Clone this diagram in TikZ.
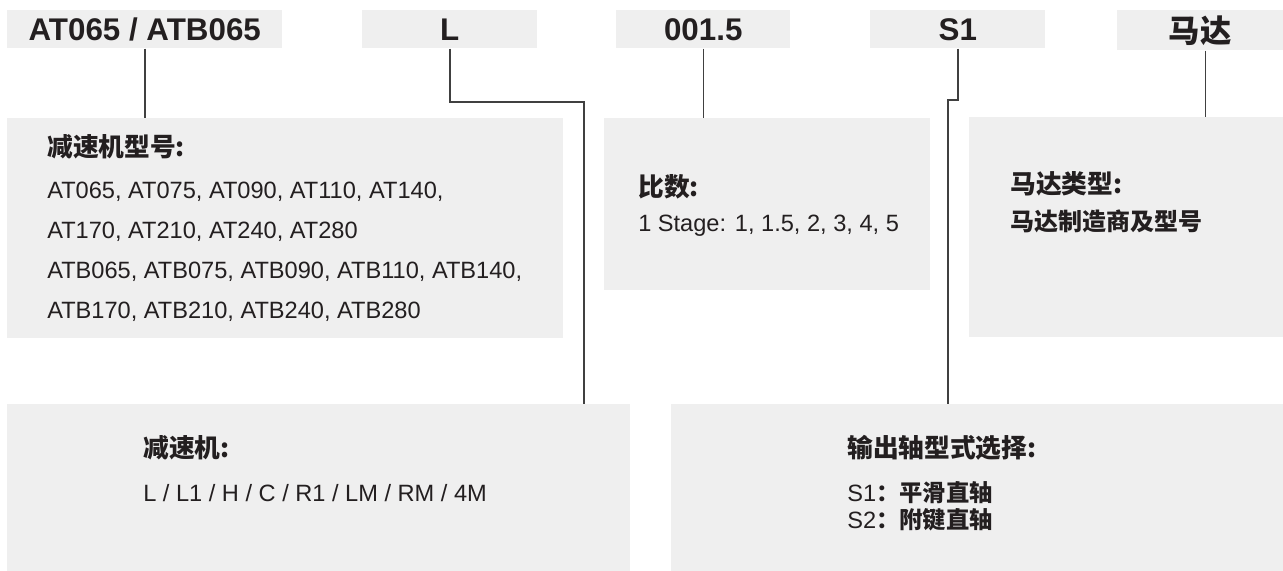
\documentclass[tikz,border=0pt]{standalone}
\usepackage{fontspec}
\setmainfont{Liberation Sans}
\newfontfamily\cjk{Noto Sans CJK SC}
\usetikzlibrary{calc}
\definecolor{panelgray}{HTML}{EFEFEF}
\definecolor{inkblack}{HTML}{231F20}
\tikzset{
	panel/.style={fill=panelgray, inner sep=0pt, anchor=north west},
	codebox/.style={panel, text=inkblack, font=\fontsize{23.5}{28}\selectfont\bfseries},
	head/.style={anchor=base west, inner sep=0pt, text=inkblack, font=\fontsize{19.3}{23}\selectfont\cjk\bfseries},
	body/.style={anchor=base west, inner sep=0pt, text=inkblack, font=\fontsize{17.7}{21}\selectfont},
	link/.style={line width=0.4mm, color=black!75}
}

\begin{document}
\begin{tikzpicture}[x=0.75pt, y=-0.75pt]
		%%%%% START %%%%%
		\useasboundingbox (0, 0) rectangle (1283, 571);
		
		\node[codebox, minimum width=275*0.75pt, minimum height=38*0.75pt] (code) at (7, 10) {AT065 / ATB065};
		\node[codebox, minimum width=175*0.75pt, minimum height=38*0.75pt] (ltr) at (362, 10) {L};
		\node[codebox, minimum width=174*0.75pt, minimum height=38*0.75pt] (ratio) at (616, 10) {001.5};
		\node[codebox, minimum width=175*0.75pt, minimum height=38*0.75pt] (shaft) at (870, 10) {S1};
		\node[codebox, minimum width=166*0.75pt, minimum height=40*0.75pt] (motor) at (1117, 10) {\cjk\bfseries 马达};
		
		\node[panel, minimum width=556*0.75pt, minimum height=220*0.75pt] (type) at (7, 118) {};
		\node[panel, minimum width=326*0.75pt, minimum height=172*0.75pt] (ratiop) at (604, 118) {};
		\node[panel, minimum width=314*0.75pt, minimum height=220*0.75pt] (motorp) at (969, 117) {};
		\node[panel, minimum width=623*0.75pt, minimum height=167*0.75pt] (gear) at (7, 404) {};
		\node[panel, minimum width=612*0.75pt, minimum height=167*0.75pt] (out) at (671, 404) {};
		
		\node[head] (typehd) at (47, 156) {减速机型号:};
		\node[body] (type1) at (47, 198) {AT065, AT075, AT090, AT110, AT140,};
		\node[body] (type2) at (47, 238) {AT170, AT210, AT240, AT280};
		\node[body] (type3) at (47, 278) {ATB065, ATB075, ATB090, ATB110, ATB140,};
		\node[body] (type4) at (47, 318) {ATB170, ATB210, ATB240, ATB280};
		
		\node[head] (ratiohd) at (638, 196) {比数:};
		\node[body] (ratio1) at (638, 231) {1 Stage: 1, 1.5, 2, 3, 4, 5};
		
		\node[head] (motorhd) at (1010, 193) {马达类型:};
		\node[head, font=\fontsize{18}{22}\selectfont\cjk\bfseries] (motor1) at (1010, 230) {马达制造商及型号};
		
		\node[head] (gearhd) at (143, 457) {减速机:};
		\node[body] (gear1) at (143, 501) {L / L1 / H / C / R1 / LM / RM / 4M};
		
		\node[head] (outhd) at (847, 457) {输出轴型式选择:};
		\node[body] (out1) at (847, 501) {S1{\cjk\bfseries\fontsize{17.5}{21}\selectfont ：平滑直轴}};
		\node[body] (out2) at (847, 528) {S2{\cjk\bfseries\fontsize{17.5}{21}\selectfont ：附键直轴}};
		
		\draw[link] (code.south) -- (code.south |- type.north);
		\coordinate (lbend) at (584, 102);
		\draw[link] (ltr.south) |- (lbend) -- (lbend |- gear.north);
		\draw[link] (ratio.south) -- (ratio.south |- ratiop.north);
		\coordinate (sbend) at (948, 100);
		\draw[link] (shaft.south) |- (sbend) -- (sbend |- out.north);
		\draw[link] ($(motor.south)+(5, 0)$) -- ($(motor.south |- motorp.north)+(5, 0)$);
		
		%%%%% END %%%%%
	\end{tikzpicture}
\end{document}
